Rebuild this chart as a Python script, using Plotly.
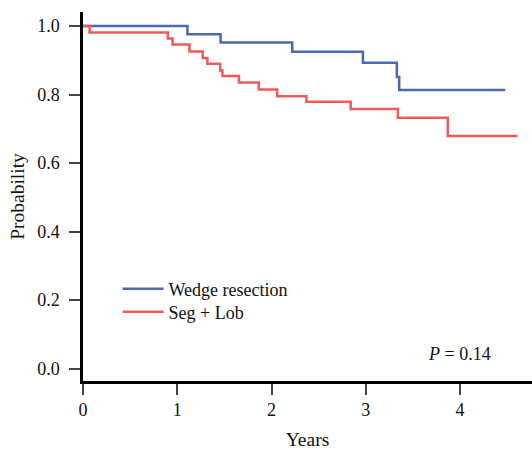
import plotly.graph_objects as go

# Kaplan-Meier step data
wedge_years = [0, 1.108, 1.46, 2.22, 2.97, 3.33, 3.355, 4.48]
wedge_prob = [1.0, 0.976, 0.952, 0.925, 0.893, 0.851, 0.813, 0.813]

seglob_years = [0, 0.07, 0.90, 0.95, 1.13, 1.27, 1.32, 1.455, 1.48, 1.655,
                1.865, 2.06, 2.37, 2.84, 3.34, 3.87, 4.61]
seglob_prob = [1.0, 0.981, 0.964, 0.946, 0.926, 0.907, 0.890, 0.870, 0.854,
               0.835, 0.815, 0.795, 0.779, 0.758, 0.732, 0.679, 0.679]

x_ticks = [0, 1, 2, 3, 4]
y_ticks = [0.0, 0.2, 0.4, 0.6, 0.8, 1.0]
y_tick_text = ["0.0", "0.2", "0.4", "0.6", "0.8", "1.0"]

series_names = ["Wedge resection", "Seg + Lob"]
p_text = "<i>P</i> = 0.14"

BLUE = "#4A68B9"
RED = "#F25A5A"
FONT = "Liberation Serif"

fig = go.Figure()
fig.add_trace(go.Scatter(x=wedge_years, y=wedge_prob, mode="lines",
                         line=dict(color=BLUE, width=2.5, shape="hv"),
                         name=series_names[0], legend="legend"))
fig.add_trace(go.Scatter(x=seglob_years, y=seglob_prob, mode="lines",
                         line=dict(color=RED, width=2.5, shape="hv"),
                         name=series_names[1], legend="legend2"))

fig.add_annotation(x=4.345, y=0.042, xref="x", yref="y", text=p_text,
                   showarrow=False, xanchor="right",
                   font=dict(family=FONT, size=18, color="#111"))

legend_common = dict(xanchor="left", yanchor="middle", bgcolor="rgba(0,0,0,0)",
                     font=dict(family=FONT, size=18, color="#111"), itemwidth=41)

fig.update_layout(
    width=532, height=450,
    margin=dict(l=83, r=0, t=12, b=69, autoexpand=False),
    paper_bgcolor="white", plot_bgcolor="white",
    font=dict(family=FONT, size=18, color="#111"),
    showlegend=True,
    legend=dict(x=0.077, y=0.249, **legend_common),
    legend2=dict(x=0.077, y=0.187, **legend_common),
)
fig.update_xaxes(range=[0, 4.764], tickvals=x_ticks, ticks="outside", ticklen=11,
                 tickwidth=1.5, tickcolor="#444", showline=True, linecolor="black",
                 linewidth=2.5, showgrid=False, zeroline=False,
                 title=dict(text="Years", font=dict(family=FONT, size=19.5), standoff=17),
                 tickfont=dict(family=FONT, size=18, color="#111"))
fig.update_yaxes(range=[-0.036, 1.041], tickvals=y_ticks, ticktext=y_tick_text,
                 ticks="outside", ticklen=11, tickwidth=1.5, tickcolor="#444",
                 showline=True, linecolor="black", linewidth=2.5, showgrid=False,
                 zeroline=False, ticklabelstandoff=6,
                 title=dict(text="Probability", font=dict(family=FONT, size=19.5), standoff=8),
                 tickfont=dict(family=FONT, size=18, color="#111"))

fig.write_html("out.html", config={"displayModeBar": False},
               post_script="document.body.style.margin='0px';")
